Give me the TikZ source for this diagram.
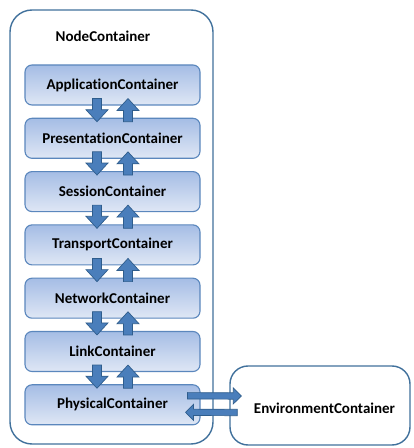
\documentclass[tikz,border=0pt]{standalone}
\usepackage{fontspec}
\setmainfont{Carlito}[Ligatures=NoCommon]
\usetikzlibrary{calc,positioning}

\definecolor{frameline}{HTML}{41719C}
\definecolor{boxline}{HTML}{5B87BD}
\definecolor{boxtop}{HTML}{A5BDE5}
\definecolor{boxbottom}{HTML}{DFE7F5}
\definecolor{arrowfill}{HTML}{4A7EBB}
\definecolor{arrowline}{HTML}{2F5D8C}

\tikzset{
  label font/.style={font=\bfseries\fontsize{15}{17}\selectfont},
  container/.style={draw=frameline, line width=1.4pt, rounded corners=22pt, fill=white},
  box/.style={draw=boxline, line width=1.1pt, rounded corners=7pt, top color=boxtop,
    bottom color=boxbottom, minimum width=175pt, minimum height=40pt, label font},
  blockarrow/.style n args={3}{draw=arrowline, fill=arrowfill, line width=0.7pt,
    to path={let \p1=(\tikztostart), \p2=(\tikztotarget),
      \n1={veclen(\x2-\x1,\y2-\y1)}, \n2={(\x2-\x1)/\n1}, \n3={(\y2-\y1)/\n1} in
      ({\x1-#1*\n3},{\y1+#1*\n2}) -- ({\x2-#3*\n2-#1*\n3},{\y2-#3*\n3+#1*\n2})
      -- ({\x2-#3*\n2-#2*\n3},{\y2-#3*\n3+#2*\n2}) -- (\p2)
      -- ({\x2-#3*\n2+#2*\n3},{\y2-#3*\n3-#2*\n2}) -- ({\x2-#3*\n2+#1*\n3},{\y2-#3*\n3-#1*\n2})
      -- ({\x1+#1*\n3},{\y1-#1*\n2}) -- cycle}}
}

\begin{document}
\begin{tikzpicture}[x=1pt, y=1pt, node distance=12.2pt]
\useasboundingbox (0,0) rectangle (414,448);

% Containers
\node[container, minimum width=203pt, minimum height=434pt] (nodebox) at (111.5,221) {};
\node[label font] (nodelabel) at (103,412) {NodeContainer};
\node[container, rounded corners=18pt, minimum width=180pt, minimum height=79pt] (env) at (320,42.5) {};
\node[label font] (envlabel) at (324.5,40) {EnvironmentContainer};

% Layer stack
\node[box] (app) at (112.5,363) {ApplicationContainer};
\node[box, below=of app] (pres) {PresentationContainer};
\node[box, below=of pres] (sess) {SessionContainer};
\node[box, below=of sess] (trans) {TransportContainer};
\node[box, below=of trans] (net) {NetworkContainer};
\node[box, below=of net] (link) {LinkContainer};
\node[box, below=of link] (phys) {PhysicalContainer};

% Down and up arrows
\foreach \a/\b in {app/pres, pres/sess, sess/trans, trans/net, net/link, link/phys} {
  \draw[blockarrow={4.5}{11}{12}] ([xshift=-15.5pt,yshift=7pt]\a.south) to ([xshift=-15.5pt,yshift=-4pt]\b.north);
  \draw[blockarrow={4.5}{11}{12}] ([xshift=15.5pt,yshift=-4pt]\b.north) to ([xshift=15.5pt,yshift=7pt]\a.south);
}

% Exchange with environment
\draw[blockarrow={3.2}{8}{8}] ([xshift=-13pt,yshift=9pt]phys.east) to ([xshift=12pt,yshift=9.5pt]env.west);
\draw[blockarrow={3.2}{8}{8}] ([xshift=8pt,yshift=-7pt]env.west) to ([xshift=-15pt,yshift=-7.5pt]phys.east);

\end{tikzpicture}
\end{document}
